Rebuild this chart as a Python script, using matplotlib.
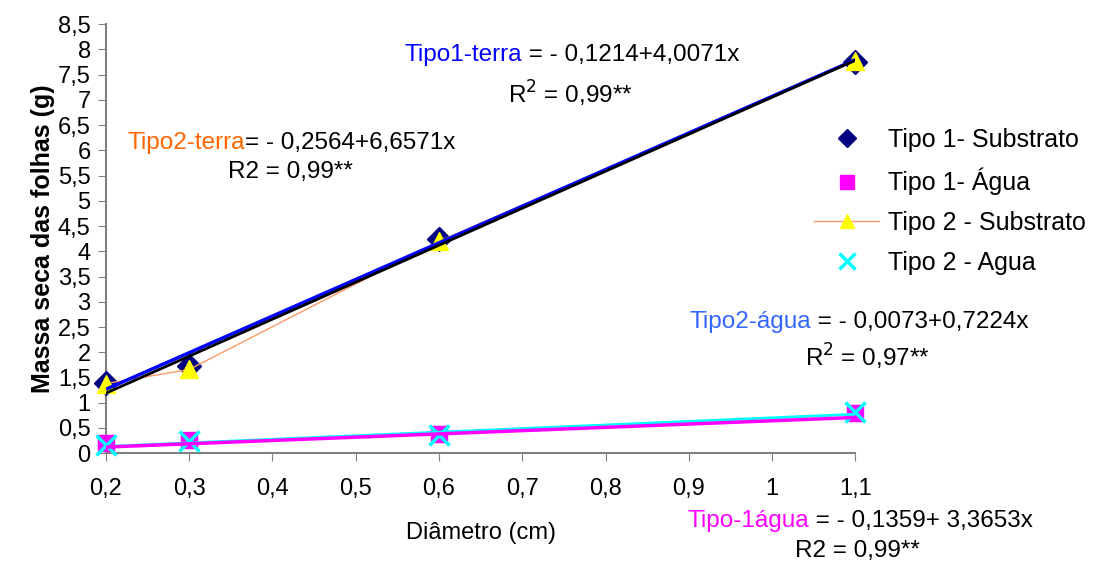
import numpy as np
import matplotlib
matplotlib.use('Agg')
import matplotlib.pyplot as plt

plt.rcParams['font.family'] = ['Liberation Sans', 'DejaVu Sans']

# Diameter (cm)
diametro = [0.2, 0.3, 0.6, 1.1]

# Leaf dry mass (g)
tipo1_substrato = [1.40, 1.72, 4.25, 7.75]
tipo1_agua = [0.20, 0.26, 0.39, 0.79]
tipo2_substrato = [1.38, 1.66, 4.20, 7.78]
tipo2_agua = [0.17, 0.25, 0.37, 0.82]

x_ticks = [0.2, 0.3, 0.4, 0.5, 0.6, 0.7, 0.8, 0.9, 1.0, 1.1]
x_ticklabels = ['0,2', '0,3', '0,4', '0,5', '0,6', '0,7', '0,8', '0,9', '1', '1,1']
y_ticks = [0, 0.5, 1, 1.5, 2, 2.5, 3, 3.5, 4, 4.5, 5, 5.5, 6, 6.5, 7, 7.5, 8, 8.5]
y_ticklabels = ['0', '0,5', '1', '1,5', '2', '2,5', '3', '3,5', '4', '4,5',
                '5', '5,5', '6', '6,5', '7', '7,5', '8', '8,5']

fig = plt.figure(figsize=(10.98, 5.63), dpi=100)
ax = fig.add_axes([0.0965, 0.195, 0.6825, 0.762])

x = np.array(diametro)
xl = np.array([0.2, 1.1])

def trend(y):
    a, b = np.polyfit(x, y, 1)
    return a * xl + b

# markers
ax.plot(diametro, tipo1_substrato, 'D', color='#000080', ms=12, clip_on=False,
        label='Tipo 1- Substrato', zorder=3)
ax.plot(diametro, tipo1_agua, 's', color='#FF00FF', ms=12, clip_on=False,
        label='Tipo 1- Água', zorder=3)
ax.plot(diametro, tipo2_substrato, '-^', color='#FF9966', lw=1,
        mfc='#FFFF00', mec='#FFFF00', ms=13, clip_on=False,
        label='Tipo 2 - Substrato', zorder=4)
ax.plot(diametro, tipo2_agua, 'x', color='#00FFFF', ms=14, mew=2.5, clip_on=False,
        label='Tipo 2 - Agua', zorder=4)

# trend lines
ax.plot(xl + 0.002, trend(tipo1_substrato) + 0.04, color='#0000FF', lw=2.5, zorder=5)
ax.plot(xl, trend(tipo2_substrato), color='black', lw=2, zorder=6)
ax.plot(xl, trend(tipo2_agua) - 0.02, color='#00FFFF', lw=2, zorder=5)
ax.plot(xl, trend(tipo1_agua) - 0.06, color='#FF00FF', lw=2.5, zorder=6)

ax.set_xlim(0.2, 1.1)
ax.set_ylim(0, 8.5)
ax.set_xticks(x_ticks)
ax.set_xticklabels(x_ticklabels)
ax.set_yticks(y_ticks)
ax.set_yticklabels(y_ticklabels)
ax.tick_params(axis='x', labelsize=17, length=6, color='#808080', pad=12)
ax.tick_params(axis='y', labelsize=17, length=6, color='#808080', pad=5)
for s in ['top', 'right']:
    ax.spines[s].set_visible(False)
for s in ['left', 'bottom']:
    ax.spines[s].set_color('#808080')
    ax.spines[s].set_linewidth(1.5)

ax.set_xlabel('Diâmetro (cm)', fontsize=17, labelpad=16)
ax.set_ylabel('Massa seca das folhas (g)', fontsize=18, fontweight='bold', labelpad=2)

leg = ax.legend(loc='upper left', bbox_to_anchor=(0.915, 0.81), frameon=False,
                fontsize=18, handlelength=2.6, handletextpad=0.35,
                labelspacing=0.63, markerscale=0.8)

# equations
fs = 17.5

def eq(xf, yf, name, color, rest):
    t = fig.text(xf, yf, name, color=color, fontsize=fs, va='center')
    fig.canvas.draw()
    bb = t.get_window_extent()
    x2 = bb.x1 / fig.bbox.width
    fig.text(x2, yf, rest, color='black', fontsize=fs, va='center')

eq(0.368, 0.902, 'Tipo1-terra', '#0000FF', ' = - 0,1214+4,0071x')
fig.text(0.463, 0.833, r'R$^2$ = 0,99**', fontsize=fs, va='center')
eq(0.116, 0.746, 'Tipo2-terra', '#FF6600', '= - 0,2564+6,6571x')
fig.text(0.208, 0.694, 'R2 = 0,99**', fontsize=fs, va='center')
eq(0.628, 0.428, 'Tipo2-água', '#3366FF', ' = - 0,0073+0,7224x')
fig.text(0.733, 0.366, r'R$^2$ = 0,97**', fontsize=fs, va='center')
eq(0.626, 0.075, 'Tipo-1água', '#FF00FF', ' = - 0,1359+ 3,3653x')
fig.text(0.724, 0.021, 'R2 = 0,99**', fontsize=fs, va='center')

fig.savefig('out.png', dpi=100)
